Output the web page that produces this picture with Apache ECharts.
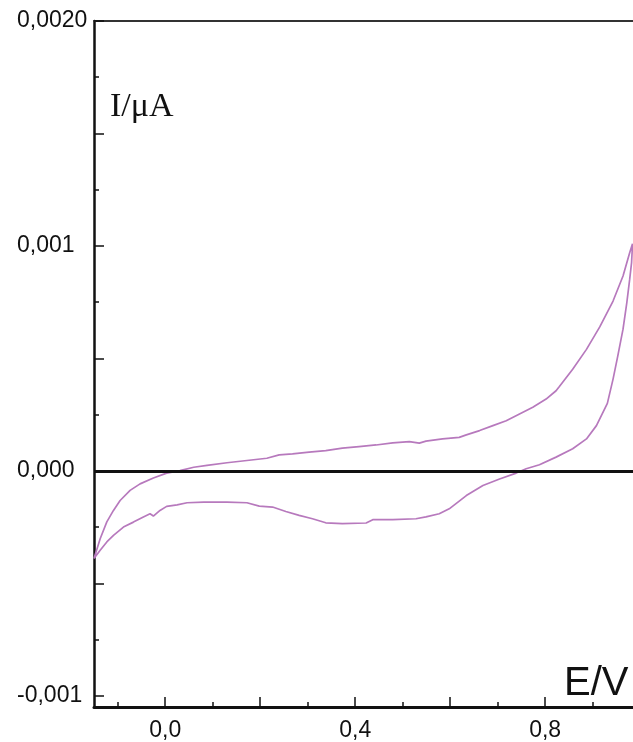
<!DOCTYPE html>
<html>
<head>
<meta charset="utf-8">
<script src="https://cdn.jsdelivr.net/npm/echarts@6/dist/echarts.min.js"></script>
<style>
  html, body { margin: 0; padding: 0; background: #ffffff; }
  #chart { width: 633px; height: 742px; }
</style>
</head>
<body>
<div id="chart"></div>
<script>
// Cyclic voltammogram: anodic sweep (upper branch) and return sweep (lower branch)
const forwardE = [-0.150, -0.137, -0.123, -0.109, -0.095, -0.074, -0.053, -0.025, 0.003, 0.031,
  0.060, 0.088, 0.130, 0.172, 0.214, 0.240, 0.268, 0.303, 0.338, 0.373,
  0.408, 0.444, 0.479, 0.514, 0.535, 0.549, 0.584, 0.619, 0.634, 0.662,
  0.690, 0.718, 0.746, 0.774, 0.802, 0.823, 0.830, 0.858, 0.887, 0.915,
  0.943, 0.964, 0.978, 0.984];
const forwardI = [-0.000390, -0.000302, -0.000227, -0.000176, -0.000132, -0.000087, -0.000058, -0.000032, -0.000010, 0.000001,
  0.000016, 0.000024, 0.000036, 0.000046, 0.000056, 0.000071, 0.000075, 0.000083, 0.000090, 0.000101,
  0.000108, 0.000115, 0.000124, 0.000130, 0.000123, 0.000132, 0.000142, 0.000149, 0.000160, 0.000179,
  0.000201, 0.000223, 0.000253, 0.000283, 0.000319, 0.000356, 0.000375, 0.000452, 0.000540, 0.000640,
  0.000755, 0.000866, 0.000970, 0.001010];

const reverseE = [0.984, 0.982, 0.978, 0.972, 0.964, 0.953, 0.943, 0.931, 0.908, 0.887,
  0.858, 0.823, 0.788, 0.760, 0.739, 0.704, 0.669, 0.634, 0.598, 0.577,
  0.549, 0.528, 0.479, 0.437, 0.423, 0.373, 0.338, 0.310, 0.282, 0.254,
  0.226, 0.198, 0.172, 0.130, 0.081, 0.046, 0.025, 0.003, -0.011, -0.025,
  -0.032, -0.046, -0.067, -0.088, -0.109, -0.123, -0.137, -0.150];
const reverseI = [0.001010, 0.000926, 0.000851, 0.000748, 0.000630, 0.000511, 0.000408, 0.000300, 0.000201, 0.000142,
  0.000098, 0.000061, 0.000027, 0.000009, -0.000010, -0.000036, -0.000065, -0.000110, -0.000169, -0.000191,
  -0.000205, -0.000213, -0.000217, -0.000217, -0.000232, -0.000235, -0.000231, -0.000213, -0.000198, -0.000181,
  -0.000161, -0.000157, -0.000142, -0.000139, -0.000139, -0.000142, -0.000151, -0.000158, -0.000176, -0.000201,
  -0.000191, -0.000205, -0.000228, -0.000250, -0.000287, -0.000316, -0.000353, -0.000390];

// Axis ticks and labels
const yMajorTicks = [-0.001, -0.0005, 0, 0.0005, 0.001, 0.0015, 0.002];
const yMinorTicks = [-0.00075, -0.00025, 0.00025, 0.00075, 0.00125, 0.00175];
const yLabelValues = [-0.001, 0, 0.001, 0.002];
const yTickLabels = ['-0,001', '0,000', '0,001', '0,0020'];
const xMajorTicks = [0, 0.2, 0.4, 0.6, 0.8];
const xMinorTicks = [-0.1, 0.1, 0.3, 0.5, 0.7, 0.9];
const xLabelValues = [0, 0.4, 0.8];
const xTickLabels = ['0,0', '0,4', '0,8'];

const X_MIN = -0.15, X_MAX = 0.985;
const Y_MIN = -0.00105, Y_MAX = 0.002;

const tickFont = "'Liberation Sans', Arial, sans-serif";
const lineColor = '#111';

function lookup(values, labels, v) {
  for (let i = 0; i < values.length; i++) {
    if (Math.abs(values[i] - v) < 1e-9) return labels[i];
  }
  return '';
}

const loop = [];
forwardE.forEach((e, i) => loop.push([e, forwardI[i]]));
reverseE.forEach((e, i) => loop.push([e, reverseI[i]]));

const chart = echarts.init(document.getElementById('chart'), null, { renderer: 'canvas' });

chart.setOption({
  animation: false,
  backgroundColor: '#ffffff',
  grid: { left: 94, right: 0, top: 21, bottom: 35, containLabel: false },
  xAxis: [
    {
      type: 'value', position: 'bottom', min: X_MIN, max: X_MAX,
      axisLine: { onZero: false, lineStyle: { color: lineColor, width: 3 } },
      axisTick: { inside: true, length: 10, customValues: xMajorTicks, lineStyle: { color: lineColor, width: 1.5 } },
      axisLabel: {
        customValues: xLabelValues, margin: 12,
        formatter: v => lookup(xLabelValues, xTickLabels, v),
        fontFamily: tickFont, fontSize: 23, color: '#111'
      },
      splitLine: { show: false }
    },
    {
      type: 'value', position: 'bottom', min: X_MIN, max: X_MAX,
      axisLine: { show: false, onZero: false },
      axisTick: { inside: true, length: 5, customValues: xMinorTicks, lineStyle: { color: lineColor, width: 1.5 } },
      axisLabel: { show: false },
      splitLine: { show: false }
    },
    {
      type: 'value', position: 'top', min: X_MIN, max: X_MAX,
      axisLine: { onZero: false, lineStyle: { color: '#333', width: 2 } },
      axisTick: { show: false },
      axisLabel: { show: false },
      splitLine: { show: false }
    }
  ],
  yAxis: [
    {
      type: 'value', position: 'left', min: Y_MIN, max: Y_MAX,
      axisLine: { onZero: false, lineStyle: { color: lineColor, width: 2.5 } },
      axisTick: { inside: true, length: 10, customValues: yMajorTicks, lineStyle: { color: lineColor, width: 1.5 } },
      axisLabel: {
        customValues: yLabelValues, margin: 77, align: 'left',
        formatter: v => lookup(yLabelValues, yTickLabels, v),
        fontFamily: tickFont, fontSize: 23, color: '#111'
      },
      splitLine: { show: false }
    },
    {
      type: 'value', position: 'left', min: Y_MIN, max: Y_MAX,
      axisLine: { show: false, onZero: false },
      axisTick: { inside: true, length: 5, customValues: yMinorTicks, lineStyle: { color: lineColor, width: 1.5 } },
      axisLabel: { show: false },
      splitLine: { show: false }
    }
  ],
  graphic: [
    {
      type: 'text', left: 110, top: 90,
      style: { text: 'I/μA', font: "34px 'Liberation Serif', 'DejaVu Serif', serif", fill: '#111' }
    },
    {
      type: 'text', left: 564, top: 664,
      style: { text: 'E/V', font: "40px 'Liberation Sans', Arial, sans-serif", fill: '#111' }
    }
  ],
  series: [
    {
      type: 'line',
      xAxisIndex: 0, yAxisIndex: 0,
      data: loop,
      showSymbol: false,
      symbol: 'none',
      lineStyle: { color: '#b779bd', width: 1.7 },
      silent: true,
      markLine: {
        silent: true, symbol: 'none', label: { show: false },
        lineStyle: { color: '#111', width: 3, type: 'solid' },
        data: [{ yAxis: 0 }]
      },
      z: 3
    }
  ]
});
</script>
</body>
</html>
